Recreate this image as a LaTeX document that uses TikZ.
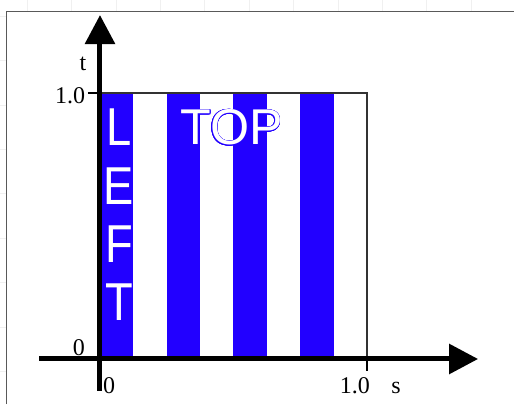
\documentclass[tikz,border=0pt]{standalone}
\usepackage{fontspec}
\setmainfont{Liberation Serif}
\newfontfamily\stripefont{Liberation Sans}
\usepackage{contour}
\usetikzlibrary{arrows.meta}
\definecolor{stripeblue}{RGB}{34,0,255}
\contourlength{0.5pt}

\begin{document}
\begin{tikzpicture}[
    x=200.25pt, y=199.5pt,
    axis/.style={line width=3.75pt, -{Triangle[length=21.75pt, width=22pt]}},
    ticklabel/.style={font=\fontsize{18}{18}\selectfont, inner sep=0pt, anchor=base},
    stripe/.style={fill=stripeblue, draw=none},
    lettr/.style={font=\stripefont\fontsize{40}{40}\selectfont, text=white, inner sep=0pt, anchor=base}
]
    \useasboundingbox (-0.3745,-0.1692) rectangle (1.5506,1.3496);

    % faint page grid and frame
    \begin{scope}[shift={(-0.3745,1.3496)}, x=0.75pt, y=-0.75pt]
        \foreach \gx in {0,...,11}
            \draw[gray!12] (27+44.4*\gx,0) -- (27+44.4*\gx,404);
        \foreach \gy in {0,...,8}
            \draw[gray!12] (0,16+44.4*\gy) -- (514,16+44.4*\gy);
        \fill[white] (7,12) rectangle (514,404);
        \draw[black!65, line width=0.75pt] (7,404) -- (7,12) -- (514,12);
    \end{scope}

    % stripes
    \foreach \k in {0,...,3}
        \fill[stripe] (\k/4,0) rectangle ++(1/8,1);
    \draw[black!80, line width=1pt] (0,0) rectangle (1,1);

    % ticks
    \draw[line width=1pt] (-0.045,1) -- (0,1);
    \draw[line width=1pt] (1,0) -- (1,-0.045);

    % axes
    \coordinate (sstart) at (-0.228,0);
    \coordinate (send) at (1.416,0);
    \coordinate (tstart) at (0,-0.12);
    \coordinate (tend) at (0,1.293);
    \draw[axis] (sstart) -- (send);
    \draw[axis] (tstart) -- (tend);

    \node[ticklabel] (tlab) at (-0.064,1.083) {t};
    \node[ticklabel] (tone) at (-0.112,0.962) {1.0};
    \node[ticklabel] (tzero) at (-0.079,0.015) {0};
    \node[ticklabel] (szero) at (0.034,-0.128) {0};
    \node[ticklabel] (sone) at (0.955,-0.128) {1.0};
    \node[ticklabel] (slab) at (1.109,-0.128) {s};

    % edge labels
    \foreach \ch [count=\i from 0] in {L,E,F,T}
        \node[lettr] (left\i) at (0.071,0.801-0.219*\i) {\scalebox{0.85}[1]{\contour{stripeblue}{\ch}}};
    \node[lettr, font=\stripefont\fontsize{37.7}{38}\selectfont] (top) at (0.493,0.805) {\contour{stripeblue}{TOP}};
\end{tikzpicture}
\end{document}
